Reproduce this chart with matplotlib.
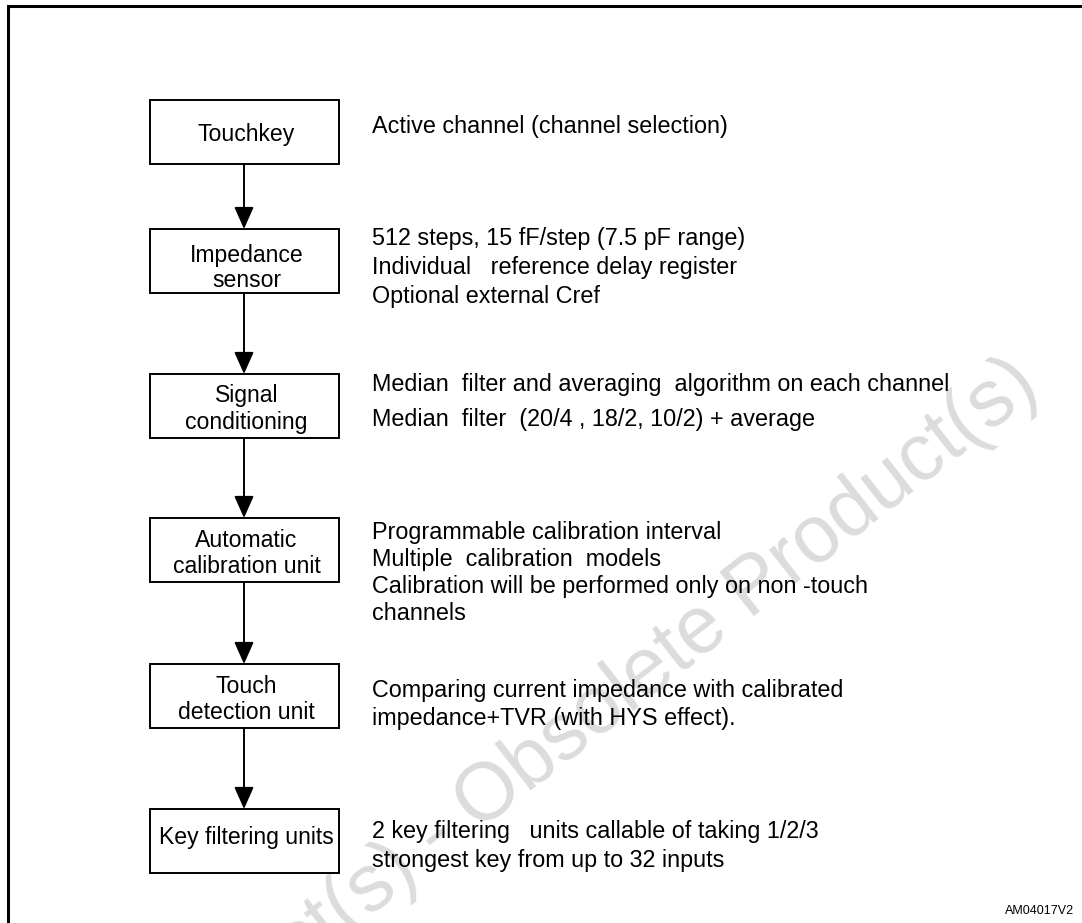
import matplotlib
matplotlib.use("Agg")
import matplotlib.pyplot as plt
from matplotlib.patches import Rectangle, FancyArrowPatch

plt.rcParams['font.family'] = ['Liberation Sans', 'DejaVu Sans']

# ---- content ----
box_labels = [["Touchkey"], ["Impedance", "sensor"], ["Signal", "conditioning"],
              ["Automatic", "calibration unit"], ["Touch", "detection unit"],
              ["Key filtering units"]]
box_notes = [
    ["Active channel (channel selection)"],
    ["512 steps, 15 fF/step (7.5 pF range)",
     "Individual   reference delay register",
     "Optional external Cref"],
    ["Median  filter and averaging  algorithm on each channel",
     "Median  filter  (20/4 , 18/2, 10/2) + average"],
    ["Programmable calibration interval",
     "Multiple  calibration  models",
     "Calibration will be performed only on non -touch",
     "channels"],
    ["Comparing current impedance with calibrated",
     "impedance+TVR (with HYS effect)."],
    ["2 key filtering   units callable of taking 1/2/3",
     "strongest key from up to 32 inputs"],
]
figure_code = "AM04017V2"
watermark = "Obsolete Product(s) - Obsolete Product(s)"

# ---- layout (pixels) ----
W, H = 1082, 923
box_left, box_right = 150, 339
box_top = [100, 229, 374, 518, 664, 809]
box_h = 64
label_base = [[141], [262, 287], [402, 429], [547, 573], [693, 719], [844]]
note_x = 372
note_base = [[133], [245, 274, 303], [391, 426], [539, 566, 593, 620],
             [697, 725], [838, 867]]
fs_label = 16.6
fs_note = 16.8
arrow_x = 244

fig = plt.figure(figsize=(W / 100, H / 100), dpi=100)
ax = fig.add_axes([0, 0, 1, 1])
ax.set_xlim(0, W)
ax.set_ylim(H, 0)
ax.axis('off')

# watermark
ax.text(1052, 405, watermark, rotation=38, rotation_mode='anchor',
        ha='right', va='bottom', fontsize=58, color='#dcdcdc', zorder=0)

# outer frame
ax.plot([8, 8, W + 10], [H + 10, 6, 6], color='black', lw=2.2,
        solid_joinstyle='miter', clip_on=False, zorder=3)

cx = (box_left + box_right) / 2
for i, lab in enumerate(box_labels):
    ax.add_patch(Rectangle((box_left, box_top[i]), box_right - box_left, box_h,
                           fill=False, edgecolor='black', lw=1.4, zorder=3))
    for j, line in enumerate(lab):
        ax.text(cx + 2, label_base[i][j], line, ha='center', va='baseline',
                fontsize=fs_label, zorder=4)
    for j, line in enumerate(box_notes[i]):
        ax.text(note_x, note_base[i][j], line, ha='left', va='baseline',
                fontsize=fs_note, zorder=4)
    if i < len(box_labels) - 1:
        ax.add_patch(FancyArrowPatch((arrow_x, box_top[i] + box_h),
                                     (arrow_x, box_top[i + 1]),
                                     arrowstyle='-|>,head_length=0.9,head_width=0.4',
                                     mutation_scale=15, color='black', lw=1.4,
                                     shrinkA=0, shrinkB=0, zorder=3))

ax.text(1074, 911, figure_code, ha='right', va='center', fontsize=9)

fig.savefig("out.png", dpi=100)
